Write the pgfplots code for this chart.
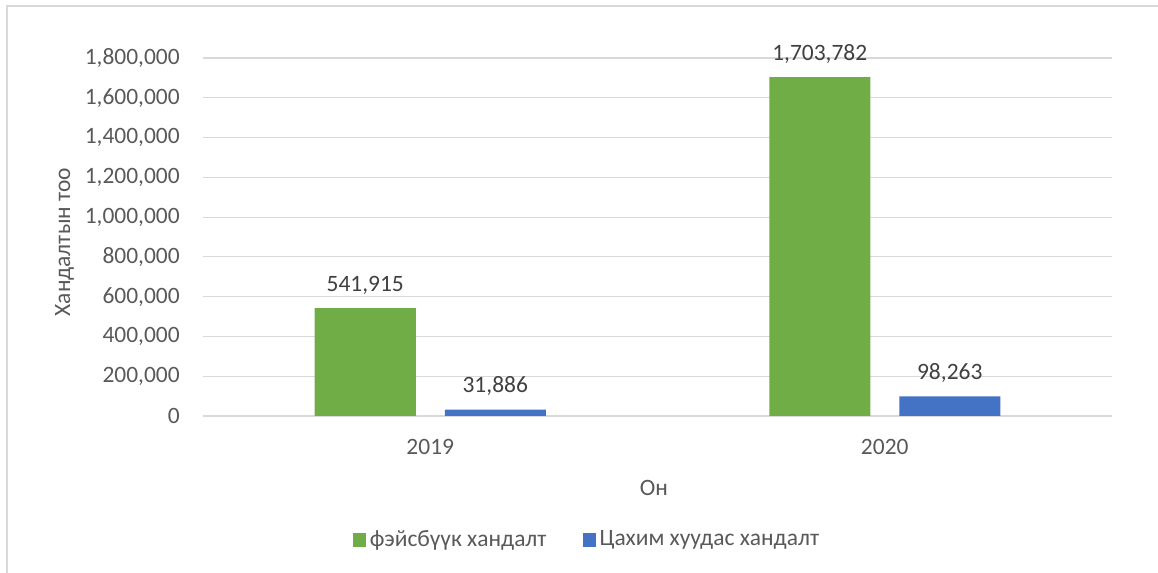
\documentclass[border=0pt]{standalone}
\usepackage{pgfplots}
\pgfplotsset{compat=1.18}
\usepackage{fontspec}
\setmainfont{Carlito}
\definecolor{cgreen}{HTML}{70AD47}
\definecolor{cblue}{HTML}{4472C4}
\definecolor{cgrid}{HTML}{D9D9D9}
\definecolor{ctext}{HTML}{595959}
\definecolor{clab}{HTML}{404040}
\begin{document}
\fontsize{17.6pt}{21pt}\selectfont
\begin{tikzpicture}
\useasboundingbox (0pt,0pt) rectangle (868.5pt,429.75pt);
\draw[cgrid, line width=0.9pt] (5.25pt,0pt) -- (5.25pt,425.25pt) -- (868.5pt,425.25pt);
\begin{axis}[
  at={(152.25pt,117.75pt)}, anchor=south west,
  scale only axis, width=681.75pt, height=268.5pt,
  xmin=-0.5, xmax=1.5, ymin=0, ymax=1800000,
  xtick={0,1}, xticklabels={2019,2020},
  ytick={0,200000,...,1800000},
  scaled y ticks=false,
  /pgf/number format/.cd, fixed, 1000 sep={,}, assume math mode=true, /pgfplots/.cd,
  major tick length=0pt,
  axis line style={draw=none},
  ymajorgrids, grid style={cgrid, line width=0.9pt},
  tick label style={font=\fontsize{17.6pt}{21pt}\selectfont, text=ctext},
  yticklabel style={inner sep=0pt, anchor=east, xshift=-17.25pt},
  xticklabel style={inner sep=0pt, anchor=base, yshift=-29.25pt},
  ylabel={Хандалтын тоо},
  ylabel style={at={(axis description cs:-0.1463,0.486)}, anchor=base, rotate=0, font=\fontsize{17.6pt}{21pt}\selectfont, text=ctext},
  xlabel={Он},
  xlabel style={at={(axis description cs:0.4961,-0.2233)}, anchor=base, font=\fontsize{17.6pt}{21pt}\selectfont, text=ctext},
  ybar, bar width=75.75pt,
  nodes near coords={\pgfmathprintnumber[fixed,1000 sep={,},precision=0,assume math mode=true]{\pgfplotspointmeta}},
  every node near coord/.append style={anchor=base, inner sep=0pt, yshift=12.75pt, text=clab, font=\fontsize{17.6pt}{21pt}\selectfont},
  legend columns=2,
  legend style={at={(axis description cs:0.4235,-0.3464)}, anchor=center, draw=none, fill=none,
    font=\fontsize{17.6pt}{21pt}\selectfont, text=ctext,
    /tikz/every even column/.append style={column sep=24pt},
    nodes={inner sep=3pt}},
  legend image code/.code={\fill[#1] (0pt,-4.9pt) rectangle (9.75pt,4.9pt);},
]
\addplot[fill=cgreen, draw=none, bar shift=-48.75pt] coordinates {(0,541915) (1,1703782)};
\addplot[fill=cblue, draw=none, bar shift=48.75pt] coordinates {(0,31886) (1,98263)};
\legend{фэйсбүүк хандалт, Цахим хуудас хандалт}
\end{axis}
\end{tikzpicture}
\end{document}
